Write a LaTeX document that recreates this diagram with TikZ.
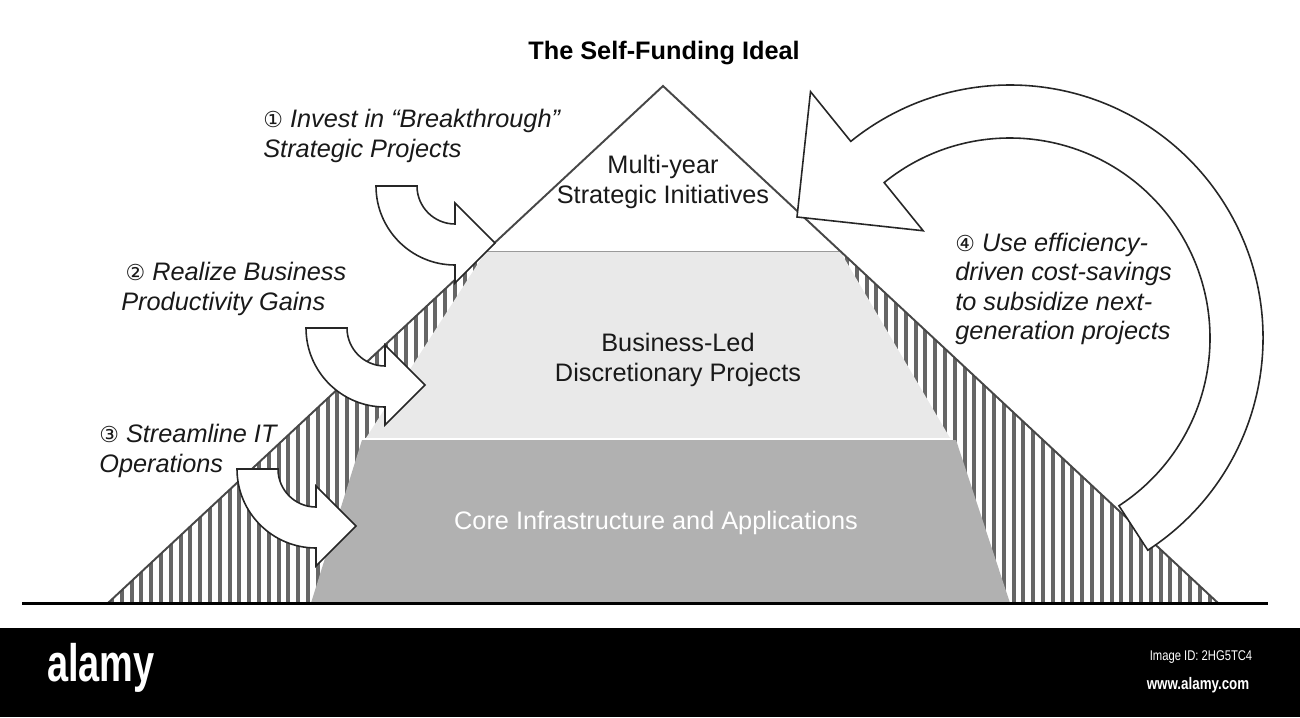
\documentclass[tikz,border=0pt]{standalone}
\usepackage{fontspec}
\setmainfont{Liberation Sans}
\newfontfamily\circfont{DejaVu Sans}
\usetikzlibrary{positioning}
\definecolor{coregray}{HTML}{B1B1B1}
\definecolor{bizgray}{HTML}{E9E9E9}
\newcommand{\circnum}[1]{{\circfont\upshape\fontsize{12.5}{16.6}\selectfont #1}}

\begin{document}
\begin{tikzpicture}[x=0.02cm,y=-0.02cm,font=\fontsize{14.4}{16.8}\selectfont]
      \tikzset{hatchline/.style={draw=black!60,line width=2.2pt}}
      \tikzset{outline/.style={draw=black!72,line width=1.1pt,line join=miter}}
      \tikzset{blockarrow/.style={draw=black!85,fill=white,line width=0.9pt,line join=miter}}
      \tikzset{note/.style={anchor=west,align=left,inner sep=0pt,text=black!90,font=\fontsize{14.4}{16.6}\selectfont\itshape}}
      \tikzset{layer/.style={align=center,inner sep=0pt,text=black!90}}

      \useasboundingbox (0,0) rectangle (1300,717);
      \fill[white] (0,0) rectangle (1300,717);

      \begin{scope}
        \clip (663,86) -- (1218,603) -- (108,603) -- cycle;
        \foreach \i in {0,...,113}
          \draw[hatchline] (112+9.8*\i,80) -- (112+9.8*\i,610);
      \end{scope}

      \fill[coregray] (362,440) -- (956,440) -- (1010,603) -- (311,603) -- cycle;
      \fill[bizgray] (486,251) -- (840,251) -- (950,438) -- (366,438) -- cycle;
      \draw[white,line width=1pt] (365,439) -- (953,439);
      \draw[black!45,line width=0.9pt] (486,251) -- (840,251);
      \fill[white] (663,86) -- (840,251) -- (486,251) -- cycle;
      \draw[outline] (108,603) -- (663,86) -- (1218,603);
      \draw[black,line width=1.7pt] (22,603) -- (1268,603);

      \foreach \cx/\cy in {455/186,385/328,316/469}
        \draw[blockarrow] (\cx-79,\cy) arc[start angle=180,end angle=90,radius=79]
          -- (\cx,\cy+97) -- (\cx+40,\cy+57) -- (\cx,\cy+17) -- (\cx,\cy+38)
          arc[start angle=90,end angle=180,radius=38] -- cycle;

      \coordinate (ring) at (1010,338);
      \draw[blockarrow] ([shift={(ring)}]57:253) arc[start angle=57,end angle=-129,radius=253]
        -- ([shift={(ring)}]-129:317) -- (797,217) -- ([shift={(ring)}]-129:138)
        -- ([shift={(ring)}]-129:200) arc[start angle=-129,end angle=57,radius=200] -- cycle;

      \node[font=\fontsize{14.4}{16.8}\selectfont\bfseries] (title) at (664,53) {The Self-Funding Ideal};
      \node[layer] (strat) at (663,182) {Multi-year\\Strategic Initiatives};
      \node[layer] (biz) at (678,360) {Business-Led\\Discretionary Projects};
      \node[layer,text=white] (core) at (656,523) {Core Infrastructure and Applications};

      \node[note] (invest) at (263,136) {\circnum{①} Invest in “Breakthrough”\\Strategic Projects};
      \node[note] (realize) at (121,289) {\,\circnum{②} Realize Business\\Productivity Gains};
      \node[note] (stream) at (99,451) {\circnum{③} Streamline IT\\Operations};
      \node[note] (reuse) at (955,289) {\circnum{④} Use efficiency-\\driven cost-savings\\to subsidize next-\\generation projects};

      \fill[black] (0,628) rectangle (1300,717);
      \node[text=white,font=\fontsize{30}{30}\selectfont\bfseries,xscale=0.72] (logo) at (101,668) {alamy};
      \node[text=white,font=\fontsize{8}{8}\selectfont,xscale=0.8] (imgid) at (1201,657) {Image ID: 2HG5TC4};
      \node[text=white,font=\fontsize{9.5}{9.5}\selectfont\bfseries,xscale=0.8] (site) at (1198,685) {www.alamy.com};
    \end{tikzpicture}
\end{document}
